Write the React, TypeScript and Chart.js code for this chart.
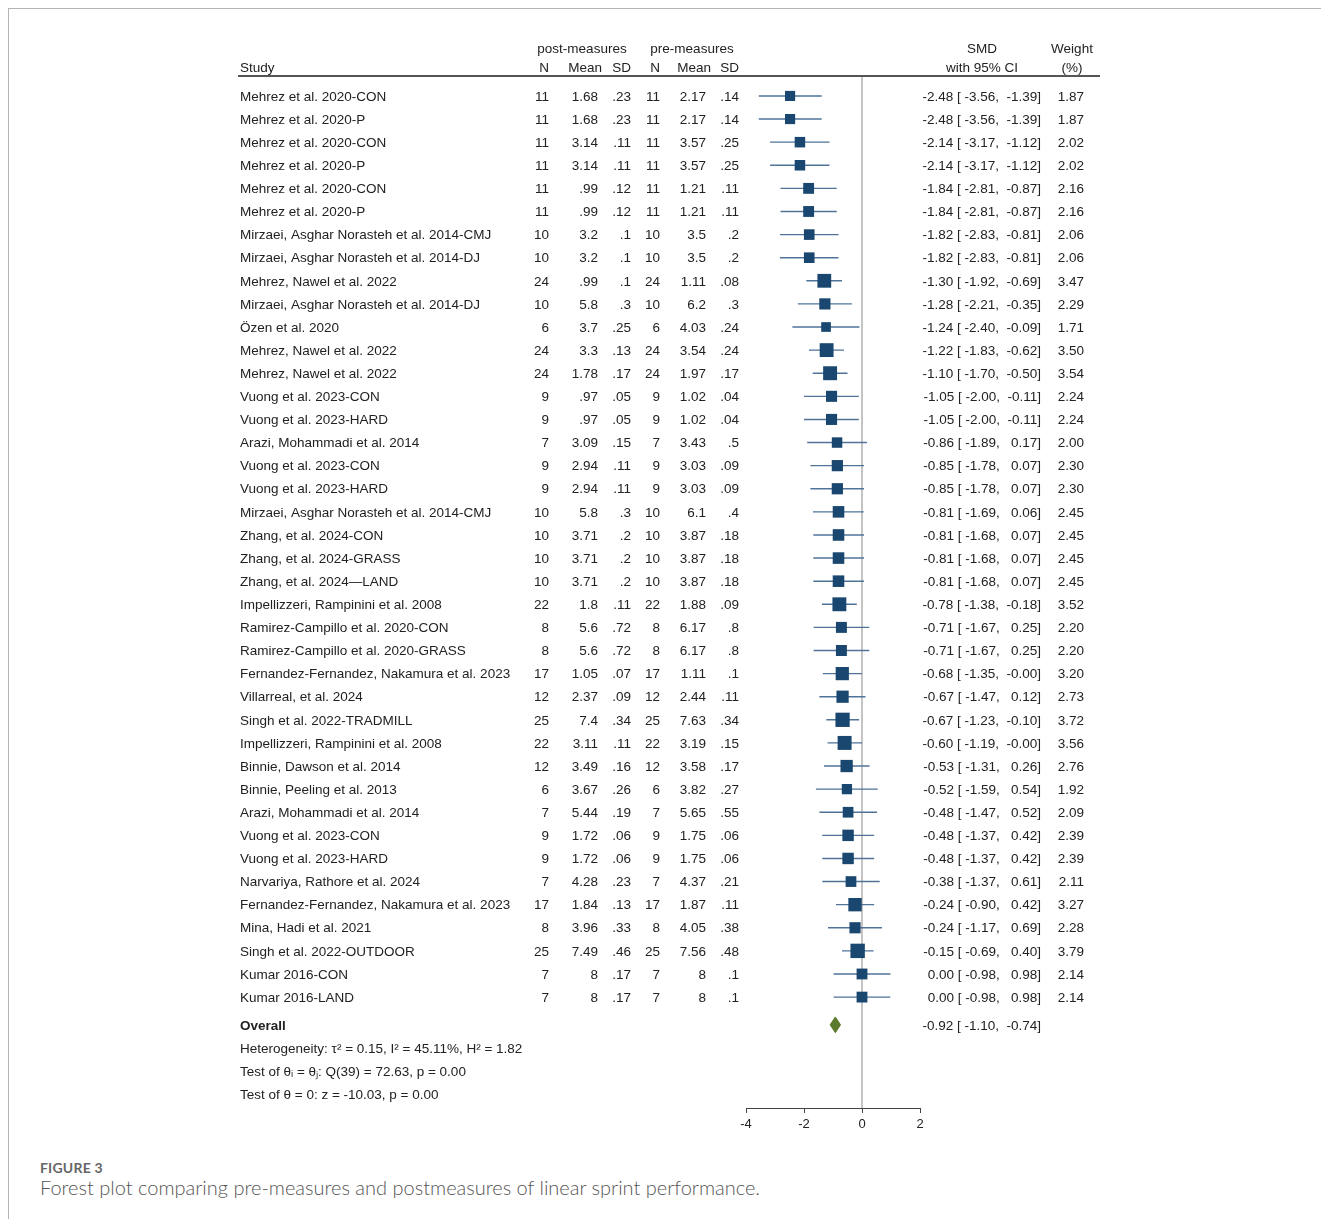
import { useEffect, useRef } from "react";
import { Chart, registerables } from "chart.js";

Chart.register(...registerables);

const studies = [
  "Mehrez et al. 2020-CON",
  "Mehrez et al. 2020-P",
  "Mehrez et al. 2020-CON",
  "Mehrez et al. 2020-P",
  "Mehrez et al. 2020-CON",
  "Mehrez et al. 2020-P",
  "Mirzaei, Asghar Norasteh et al. 2014-CMJ",
  "Mirzaei, Asghar Norasteh et al. 2014-DJ",
  "Mehrez, Nawel et al. 2022",
  "Mirzaei, Asghar Norasteh et al. 2014-DJ",
  "Özen et al. 2020",
  "Mehrez, Nawel et al. 2022",
  "Mehrez, Nawel et al. 2022",
  "Vuong et al. 2023-CON",
  "Vuong et al. 2023-HARD",
  "Arazi, Mohammadi et al. 2014",
  "Vuong et al. 2023-CON",
  "Vuong et al. 2023-HARD",
  "Mirzaei, Asghar Norasteh et al. 2014-CMJ",
  "Zhang, et al. 2024-CON",
  "Zhang, et al. 2024-GRASS",
  "Zhang, et al. 2024\u2014LAND",
  "Impellizzeri, Rampinini et al. 2008",
  "Ramirez-Campillo et al. 2020-CON",
  "Ramirez-Campillo et al. 2020-GRASS",
  "Fernandez-Fernandez, Nakamura et al. 2023",
  "Villarreal, et al. 2024",
  "Singh et al. 2022-TRADMILL",
  "Impellizzeri, Rampinini et al. 2008",
  "Binnie, Dawson et al. 2014",
  "Binnie, Peeling et al. 2013",
  "Arazi, Mohammadi et al. 2014",
  "Vuong et al. 2023-CON",
  "Vuong et al. 2023-HARD",
  "Narvariya, Rathore et al. 2024",
  "Fernandez-Fernandez, Nakamura et al. 2023",
  "Mina, Hadi et al. 2021",
  "Singh et al. 2022-OUTDOOR",
  "Kumar 2016-CON",
  "Kumar 2016-LAND",
];

const postN = [11, 11, 11, 11, 11, 11, 10, 10, 24, 10, 6, 24, 24, 9, 9, 7, 9, 9, 10, 10, 10, 10, 22, 8, 8, 17, 12, 25, 22, 12, 6, 7, 9, 9, 7, 17, 8, 25, 7, 7];
const postMean = [1.68, 1.68, 3.14, 3.14, 0.99, 0.99, 3.2, 3.2, 0.99, 5.8, 3.7, 3.3, 1.78, 0.97, 0.97, 3.09, 2.94, 2.94, 5.8, 3.71, 3.71, 3.71, 1.8, 5.6, 5.6, 1.05, 2.37, 7.4, 3.11, 3.49, 3.67, 5.44, 1.72, 1.72, 4.28, 1.84, 3.96, 7.49, 8, 8];
const postSD = [0.23, 0.23, 0.11, 0.11, 0.12, 0.12, 0.1, 0.1, 0.1, 0.3, 0.25, 0.13, 0.17, 0.05, 0.05, 0.15, 0.11, 0.11, 0.3, 0.2, 0.2, 0.2, 0.11, 0.72, 0.72, 0.07, 0.09, 0.34, 0.11, 0.16, 0.26, 0.19, 0.06, 0.06, 0.23, 0.13, 0.33, 0.46, 0.17, 0.17];
const preN = [11, 11, 11, 11, 11, 11, 10, 10, 24, 10, 6, 24, 24, 9, 9, 7, 9, 9, 10, 10, 10, 10, 22, 8, 8, 17, 12, 25, 22, 12, 6, 7, 9, 9, 7, 17, 8, 25, 7, 7];
const preMean = [2.17, 2.17, 3.57, 3.57, 1.21, 1.21, 3.5, 3.5, 1.11, 6.2, 4.03, 3.54, 1.97, 1.02, 1.02, 3.43, 3.03, 3.03, 6.1, 3.87, 3.87, 3.87, 1.88, 6.17, 6.17, 1.11, 2.44, 7.63, 3.19, 3.58, 3.82, 5.65, 1.75, 1.75, 4.37, 1.87, 4.05, 7.56, 8, 8];
const preSD = [0.14, 0.14, 0.25, 0.25, 0.11, 0.11, 0.2, 0.2, 0.08, 0.3, 0.24, 0.24, 0.17, 0.04, 0.04, 0.5, 0.09, 0.09, 0.4, 0.18, 0.18, 0.18, 0.09, 0.8, 0.8, 0.1, 0.11, 0.34, 0.15, 0.17, 0.27, 0.55, 0.06, 0.06, 0.21, 0.11, 0.38, 0.48, 0.1, 0.1];
const smd = [-2.48, -2.48, -2.14, -2.14, -1.84, -1.84, -1.82, -1.82, -1.3, -1.28, -1.24, -1.22, -1.1, -1.05, -1.05, -0.86, -0.85, -0.85, -0.81, -0.81, -0.81, -0.81, -0.78, -0.71, -0.71, -0.68, -0.67, -0.67, -0.6, -0.53, -0.52, -0.48, -0.48, -0.48, -0.38, -0.24, -0.24, -0.15, 0.0, 0.0];
const ciLow = [-3.56, -3.56, -3.17, -3.17, -2.81, -2.81, -2.83, -2.83, -1.92, -2.21, -2.4, -1.83, -1.7, -2.0, -2.0, -1.89, -1.78, -1.78, -1.69, -1.68, -1.68, -1.68, -1.38, -1.67, -1.67, -1.35, -1.47, -1.23, -1.19, -1.31, -1.59, -1.47, -1.37, -1.37, -1.37, -0.9, -1.17, -0.69, -0.98, -0.98];
const ciHigh = [-1.39, -1.39, -1.12, -1.12, -0.87, -0.87, -0.81, -0.81, -0.69, -0.35, -0.09, -0.62, -0.5, -0.11, -0.11, 0.17, 0.07, 0.07, 0.06, 0.07, 0.07, 0.07, -0.18, 0.25, 0.25, -0.0, 0.12, -0.1, -0.0, 0.26, 0.54, 0.52, 0.42, 0.42, 0.61, 0.42, 0.69, 0.4, 0.98, 0.98];
const weights = [1.87, 1.87, 2.02, 2.02, 2.16, 2.16, 2.06, 2.06, 3.47, 2.29, 1.71, 3.5, 3.54, 2.24, 2.24, 2.0, 2.3, 2.3, 2.45, 2.45, 2.45, 2.45, 3.52, 2.2, 2.2, 3.2, 2.73, 3.72, 3.56, 2.76, 1.92, 2.09, 2.39, 2.39, 2.11, 3.27, 2.28, 3.79, 2.14, 2.14];

const overallSMD = -0.92;
const overallLow = -1.1;
const overallHigh = -0.74;

const footerLines = [
  "Heterogeneity: \u03c4\u00b2 = 0.15, I\u00b2 = 45.11%, H\u00b2 = 1.82",
  "Test of \u03b8\u1d62 = \u03b8\u2c7c: Q(39) = 72.63, p = 0.00",
  "Test of \u03b8 = 0: z = -10.03, p = 0.00",
];

const xTicks = [-4, -2, 0, 2];

// layout (page coordinates)
const OFF = 9;
const W = 1312;
const H = 1140;
const Y_MIN = -0.82;
const Y_MAX = 43.8;
const OVERALL_ROW = 40.2;
const FONT = '"Liberation Sans", Arial, sans-serif';
const TEXT = "#222";
const TEXT_DY = 1;

const fmtStat = (v: number) => {
  const s = String(v);
  return s.startsWith("0.") ? s.slice(1) : s;
};
const fmt2 = (v: number) => {
  const neg = v < 0 || Object.is(v, -0);
  return (neg ? "-" : "") + Math.abs(v).toFixed(2);
};
const ciStr = (m: number, lo: number, hi: number) =>
  `${fmt2(m)} [${fmt2(lo).padStart(6, " ")}, ${fmt2(hi).padStart(6, " ")}]`;

const P = (v: number) => v - OFF;

const textPlugin = {
  id: "forestText",
  afterDraw(chart: any) {
    const ctx: CanvasRenderingContext2D = chart.ctx;
    const ys = chart.scales.y;
    ctx.save();
    ctx.fillStyle = TEXT;
    ctx.textBaseline = "middle";
    const t = (s: string, x: number, y: number, align: CanvasTextAlign, bold = false) => {
      ctx.font = `${bold ? "bold " : ""}13.5px ${FONT}`;
      ctx.textAlign = align;
      ctx.fillText(s, x, y + TEXT_DY);
    };
    // headers
    const h1 = P(48);
    const h2 = P(67);
    t("post-measures", P(582), h1, "center");
    t("pre-measures", P(692), h1, "center");
    t("SMD", P(982), h1, "center");
    t("Weight", P(1072), h1, "center");
    t("Study", P(240), h2, "left");
    t("N", P(549), h2, "right");
    t("Mean", P(602), h2, "right");
    t("SD", P(631), h2, "right");
    t("N", P(660), h2, "right");
    t("Mean", P(711), h2, "right");
    t("SD", P(739), h2, "right");
    t("with 95% CI", P(982), h2, "center");
    t("(%)", P(1072), h2, "center");
    // rule
    ctx.strokeStyle = "#555";
    ctx.lineWidth = 2;
    ctx.beginPath();
    ctx.moveTo(P(238), P(76));
    ctx.lineTo(P(1100), P(76));
    ctx.stroke();
    // rows
    studies.forEach((s, i) => {
      const y = ys.getPixelForValue(i);
      t(s, P(240), y, "left");
      t(String(postN[i]), P(549), y, "right");
      t(fmtStat(postMean[i]), P(598), y, "right");
      t(fmtStat(postSD[i]), P(631), y, "right");
      t(String(preN[i]), P(660), y, "right");
      t(fmtStat(preMean[i]), P(706), y, "right");
      t(fmtStat(preSD[i]), P(739), y, "right");
      t(ciStr(smd[i], ciLow[i], ciHigh[i]), P(1041), y, "right");
      t(weights[i].toFixed(2), P(1084), y, "right");
    });
    const yo = ys.getPixelForValue(OVERALL_ROW);
    t("Overall", P(240), yo, "left", true);
    t(ciStr(overallSMD, overallLow, overallHigh), P(1041), yo, "right");
    footerLines.forEach((s, k) => {
      t(s, P(240), ys.getPixelForValue(OVERALL_ROW + 1 + k), "left");
    });
    ctx.restore();
  },
};

export default function App() {
  const ref = useRef<HTMLCanvasElement>(null);
  useEffect(() => {
    if (!ref.current) return;
    Chart.defaults.font.family = FONT;
    const whiskers = studies.map((_, i) => ({
      data: [
        { x: ciLow[i], y: i },
        { x: ciHigh[i], y: i },
      ],
      showLine: true,
      borderColor: "#4f7399",
      borderWidth: 1.4,
      pointRadius: 0,
      order: 5,
    }));
    const chart = new Chart(ref.current, {
      type: "scatter",
      data: {
        datasets: [
          {
            data: [
              { x: 0, y: Y_MIN },
              { x: 0, y: Y_MAX },
            ],
            showLine: true,
            borderColor: "#c4c4c4",
            borderWidth: 2,
            pointRadius: 0,
            order: 10,
          },
          ...whiskers,
          {
            data: smd.map((v, i) => ({ x: v, y: i })),
            pointStyle: "rect",
            pointRadius: weights.map((w) => (7.4 * Math.sqrt(w)) / Math.SQRT2),
            backgroundColor: "#1a476f",
            borderColor: "#1a476f",
            borderWidth: 0,
            order: 1,
          },
          {
            data: [
              { x: overallLow, y: OVERALL_ROW },
              { x: overallSMD, y: OVERALL_ROW - 0.34 },
              { x: overallHigh, y: OVERALL_ROW },
              { x: overallSMD, y: OVERALL_ROW + 0.34 },
              { x: overallLow, y: OVERALL_ROW },
            ],
            showLine: true,
            fill: "shape",
            backgroundColor: "#5b7a2b",
            borderColor: "#5b7a2b",
            borderWidth: 1,
            pointRadius: 0,
            order: 1,
          },
        ] as any,
      },
      options: {
        responsive: false,
        animation: false,
        events: [],
        layout: { padding: { left: P(746), right: W - P(920), top: P(77), bottom: H - P(1108) - 30 } },
        plugins: { legend: { display: false }, tooltip: { enabled: false } },
        scales: {
          x: {
            type: "linear",
            min: -4,
            max: 2,
            afterBuildTicks: (s: any) => {
              s.ticks = xTicks.map((v) => ({ value: v }));
            },
            afterFit: (s: any) => {
              s.height = 30;
            },
            ticks: { color: TEXT, font: { size: 13 }, padding: 4 },
            grid: { drawOnChartArea: false, drawTicks: true, tickLength: 5, color: "#444" },
            border: { display: true, color: "#444", width: 1 },
          },
          y: { type: "linear", min: Y_MIN, max: Y_MAX, reverse: true, display: false },
        },
      } as any,
      plugins: [textPlugin],
    });
    return () => chart.destroy();
  }, []);

  return (
    <div
      style={{
        position: "relative",
        height: 1211,
        borderTop: "1px solid #b4b4b4",
        borderLeft: "1px solid #b4b4b4",
        boxSizing: "border-box",
      }}
    >
      <canvas ref={ref} width={W} height={H} style={{ position: "absolute", left: 0, top: 0, display: "block" }} />
      <div
        style={{
          position: "absolute",
          left: 31,
          top: 1150,
          fontFamily: "Lato, 'Open Sans', sans-serif",
          color: "#666",
        }}
      >
        <div style={{ fontSize: 14, fontWeight: 700, letterSpacing: 0.2, lineHeight: "18px" }}>FIGURE 3</div>
        <div style={{ fontSize: 20, fontWeight: 300, lineHeight: "20px", color: "#555" }}>
          Forest plot comparing pre-measures and postmeasures of linear sprint performance.
        </div>
      </div>
    </div>
  );
}
